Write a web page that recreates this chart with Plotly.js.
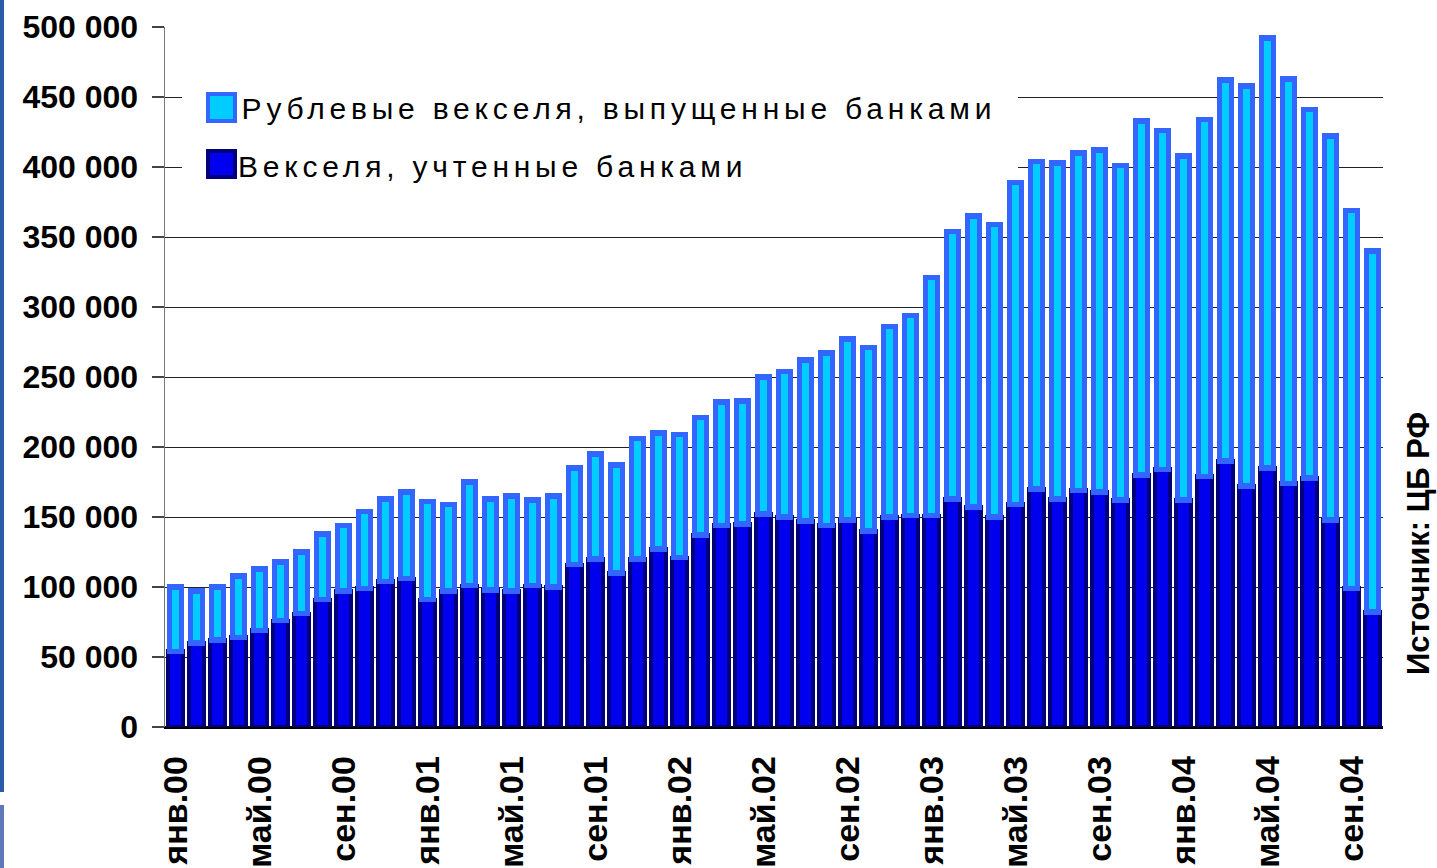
<!DOCTYPE html>
<html>
<head>
<meta charset="utf-8">
<script src="https://cdn.plot.ly/plotly-3.0.1.min.js"></script>
<style>
  html, body { margin: 0; padding: 0; background: #ffffff; }
  #chart { width: 1437px; height: 868px; }
  g.annotation[data-index="0"] text, g.annotation[data-index="1"] text { letter-spacing: 4.8px; }
</style>
</head>
<body>
<div id="chart"></div>
<script>
// ---- data (values in roubles thousands) ----
const monthNames = ['янв','фев','мар','апр','май','июн','июл','авг','сен','окт','ноя','дек'];
const years = ['00','01','02','03','04'];
const monthCount = 58; // янв.00 .. окт.04

const categories = [];
for (let i = 0; i < monthCount; i++) {
  categories.push(monthNames[i % 12] + '.' + years[Math.floor(i / 12)]);
}

// Векселя, учтенные банками (lower segment)
const discountedBills = [
  54000, 60000, 62000, 64000, 69000, 76000, 81000, 91000, 97000, 99000, 104000, 106000,
  91000, 97000, 101000, 98000, 97000, 101000, 100000, 116000, 120000, 110000, 120000, 127000,
  121000, 137000, 144000, 145000, 152000, 150000, 147000, 144000, 148000, 140000, 150000, 151000,
  151000, 163000, 157000, 150000, 159000, 170000, 163000, 169000, 168000, 162000, 180000, 184000,
  162000, 179000, 190000, 172000, 185000, 174000, 178000, 148000, 99000, 82000
];

// Рублевые векселя, выпущенные банками (upper segment)
const issuedBills = [
  46000, 37000, 38000, 44000, 44000, 42000, 44000, 47000, 47000, 55000, 59000, 62000,
  70000, 62000, 74000, 65000, 68000, 61000, 65000, 69000, 75000, 77000, 86000, 83000,
  88000, 84000, 88000, 88000, 98000, 104000, 115000, 123000, 129000, 131000, 136000, 143000,
  170000, 191000, 208000, 209000, 230000, 234000, 240000, 241000, 244000, 239000, 253000, 242000,
  246000, 255000, 272000, 286000, 307000, 289000, 263000, 274000, 270000, 258000
];

const tickLabels = ['янв.00','май.00','сен.00','янв.01','май.01','сен.01','янв.02','май.02',
                    'сен.02','янв.03','май.03','сен.03','янв.04','май.04','сен.04'];

const seriesNames = ['Рублевые векселя, выпущенные банками', 'Векселя, учтенные банками'];
const sourceText = 'Источник: ЦБ РФ';

// ---- layout helpers (pixel -> paper) ----
const W = 1437, H = 868;
const M = { l: 165, r: 54, t: 27, b: 141 };
const PW = W - M.l - M.r, PH = H - M.t - M.b;
const px = x => (x - M.l) / PW;
const py = y => (H - M.b - y) / PH;

const FONT = 'Liberation Sans, Arial, Helvetica, sans-serif';

const traces = [
  {
    type: 'bar', name: seriesNames[1], x: categories, y: discountedBills,
    width: 0.75,
    marker: { color: '#0000ee', line: { color: '#00007a', width: 4 } },
    showlegend: false, hoverinfo: 'x+y'
  },
  {
    type: 'bar', name: seriesNames[0], x: categories, y: issuedBills,
    width: 0.58,
    marker: { color: '#00ccff', line: { color: '#3366ff', width: 5.5 } },
    showlegend: false, hoverinfo: 'x+y'
  }
];

const boundaryTicks = tickLabels.map(l => categories.indexOf(l) - 0.5);

const layout = {
  width: W, height: H,
  margin: M,
  paper_bgcolor: '#ffffff', plot_bgcolor: '#ffffff',
  barmode: 'stack',
  separators: ', ',
  font: { family: FONT, color: '#000000' },
  xaxis: {
    type: 'category', range: [-0.5, monthCount - 0.5],
    tickmode: 'array', tickvals: tickLabels, ticktext: tickLabels,
    tickangle: -90, ticks: '', ticklabelstandoff: 14,
    tickfont: { family: FONT, size: 34, weight: 'bold', color: '#000000' },
    showline: true, linecolor: '#000000', linewidth: 1.5,
    showgrid: false, zeroline: false, fixedrange: true
  },
  xaxis2: {
    overlaying: 'x', anchor: 'y', side: 'bottom', type: 'linear',
    range: [-0.5, monthCount - 0.5],
    tickmode: 'array', tickvals: boundaryTicks,
    ticks: 'outside', ticklen: 11, tickwidth: 1.5, tickcolor: '#666666',
    showticklabels: false, showgrid: false, zeroline: false, showline: false, fixedrange: true
  },
  yaxis: {
    range: [0, 500000], tick0: 0, dtick: 50000, tickformat: ',d',
    tickfont: { family: FONT, size: 32, weight: 'bold', color: '#000000' },
    ticks: 'outside', ticklen: 12, tickwidth: 1.5, tickcolor: '#444444',
    ticklabelstandoff: 7,
    showline: true, linecolor: '#777777', linewidth: 1.5,
    showgrid: true, gridcolor: '#222222', gridwidth: 1,
    zeroline: true, zerolinecolor: '#000000', zerolinewidth: 1.5, fixedrange: true
  },
  shapes: [
    // slide edge strip
    { type: 'rect', xref: 'paper', yref: 'paper', x0: px(0), x1: px(4), y0: py(0), y1: py(792),
      fillcolor: '#2a5aa8', line: { width: 0 }, layer: 'above' },
    { type: 'rect', xref: 'paper', yref: 'paper', x0: px(0), x1: px(4), y0: py(805), y1: py(868),
      fillcolor: '#6078b8', line: { width: 0 }, layer: 'above' },
    // legend background
    { type: 'rect', xref: 'paper', yref: 'paper', x0: px(182), x1: px(1018), y0: py(76), y1: py(177),
      fillcolor: '#ffffff', line: { width: 0 }, layer: 'above' },
    // legend symbols
    { type: 'rect', xref: 'paper', yref: 'paper', x0: px(208), x1: px(235), y0: py(94), y1: py(121),
      fillcolor: '#00ccff', line: { color: '#3366ff', width: 4 }, layer: 'above' },
    { type: 'rect', xref: 'paper', yref: 'paper', x0: px(208), x1: px(235), y0: py(151), y1: py(177),
      fillcolor: '#0000ee', line: { color: '#00007a', width: 4 }, layer: 'above' }
  ],
  annotations: [
    { xref: 'paper', yref: 'paper', x: px(619), y: py(109), xanchor: 'center', yanchor: 'middle',
      text: seriesNames[0], showarrow: false,
      font: { family: FONT, size: 30, color: '#000000' } },
    { xref: 'paper', yref: 'paper', x: px(492), y: py(167), xanchor: 'center', yanchor: 'middle',
      text: seriesNames[1], showarrow: false,
      font: { family: FONT, size: 30, color: '#000000' } },
    { xref: 'paper', yref: 'paper', x: px(1418), y: py(544), xanchor: 'center', yanchor: 'middle',
      text: sourceText, textangle: -90, showarrow: false,
      font: { family: FONT, size: 31, weight: 'bold', color: '#000000' } }
  ],
  showlegend: false
};

Plotly.newPlot('chart', traces, layout, { displayModeBar: false, staticPlot: true });
</script>
</body>
</html>
